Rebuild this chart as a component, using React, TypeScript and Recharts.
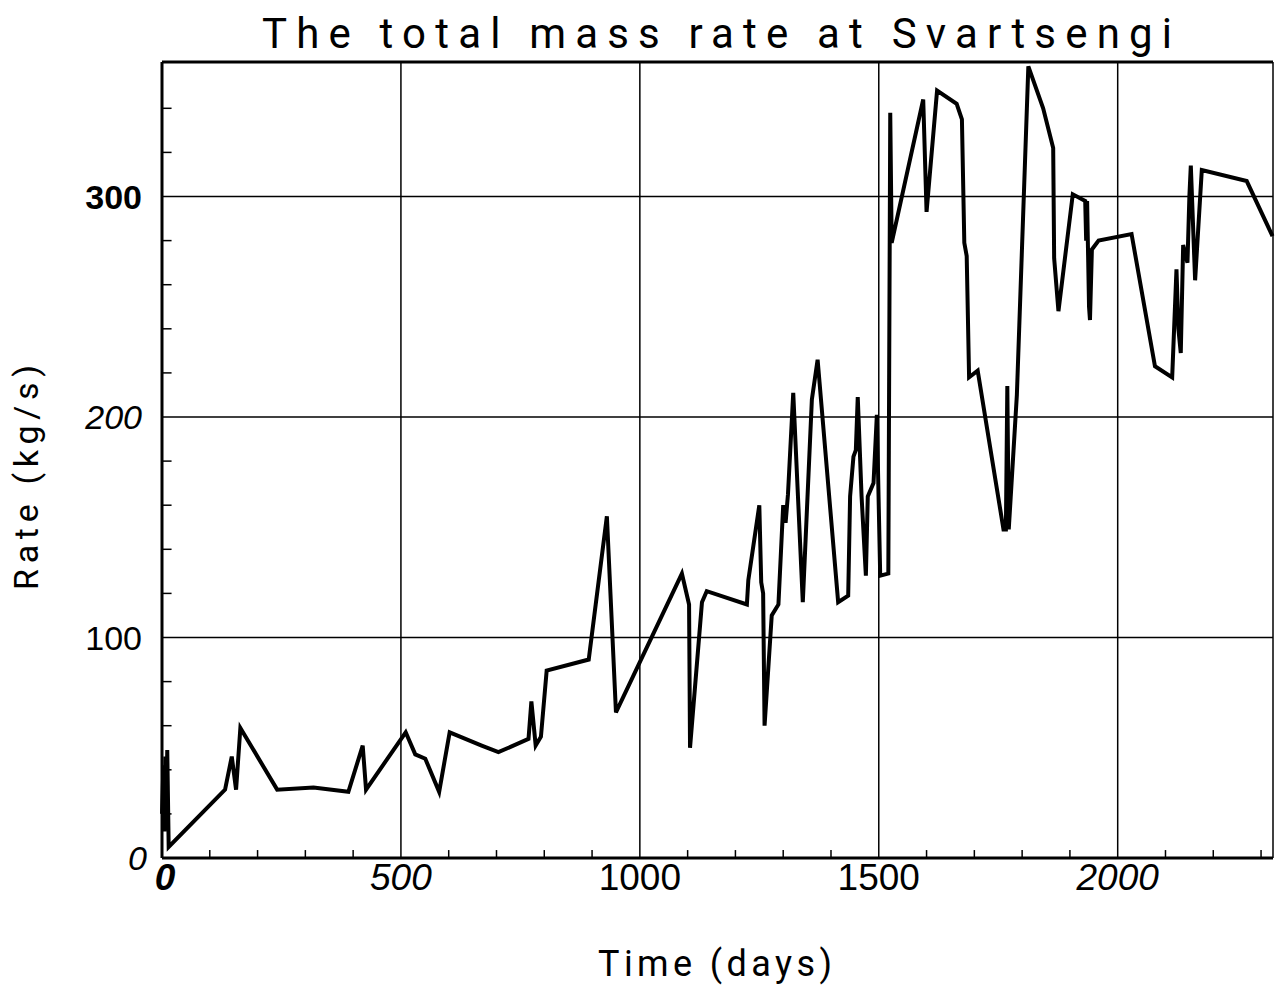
import React from 'react';
import { LineChart, Line, XAxis, YAxis, CartesianGrid, ReferenceLine } from 'recharts';

// time in days since start, total mass rate in kg/s
const days = [
  0, 3, 5, 7, 9, 11, 14, 132, 146, 155, 164, 241, 317, 390, 420, 427, 510, 530, 551, 580,
  602, 669, 704, 767, 773, 782, 793, 805, 893, 931, 950, 1088, 1103, 1105, 1130, 1140, 1224, 1227,
  1250, 1254, 1258, 1261, 1276, 1290, 1300, 1305, 1310, 1321, 1341, 1360, 1372, 1415, 1436, 1440,
  1447, 1452, 1456, 1464, 1473, 1477, 1489, 1496, 1503, 1520, 1524, 1527, 1593, 1600, 1622, 1663,
  1674, 1679, 1684, 1689, 1707, 1761, 1766, 1769, 1772, 1789, 1813, 1844, 1865, 1867, 1876, 1906,
  1932, 1934, 1936, 1940, 1942, 1946, 1960, 2029, 2078, 2114, 2123, 2127, 2132, 2137, 2146, 2150,
  2153, 2162, 2176, 2270, 2324,
];
const rates = [
  20, 42, 12, 46, 18, 49, 5, 31, 46, 31, 59, 31, 32, 30, 51, 31, 57, 47, 45, 30,
  57, 51, 48, 54, 71, 51, 55, 85, 90, 155, 66, 129, 115, 50, 116, 121, 115, 126,
  160, 125, 120, 60, 110, 115, 160, 152, 165, 211, 116, 208, 226, 116, 119, 164,
  182, 185, 209, 164, 128, 164, 170, 201, 128, 129, 338, 279, 344, 293, 348, 342,
  335, 279, 273, 218, 221, 149, 149, 214, 149, 210, 359, 340, 322, 272, 248, 301,
  298, 280, 298, 250, 244, 276, 280, 283, 223, 218, 267, 240, 229, 278, 270, 300,
  314, 262, 312, 307, 282,
];

const xTicks = [0, 500, 1000, 1500, 2000];
const yTicks = [0, 100, 200, 300];
const xMinor = [100, 200, 300, 400, 600, 700, 800, 900, 1100, 1200, 1300, 1400, 1600, 1700, 1800, 1900, 2100, 2200, 2300];
const yMinor = [20, 40, 60, 80, 120, 140, 160, 180, 220, 240, 260, 280, 320, 340];

const X_MAX = 2325;
const Y_MAX = 361;

const data = days.map((d, i) => ({ day: d, rate: rates[i] }));

// the scanned plot mixes bold / italic labels, keep that look
const xTickLook: Record<number, { w: string; s: string }> = {
  0: { w: 'bold', s: 'italic' },
  500: { w: 'normal', s: 'italic' },
  1000: { w: 'normal', s: 'normal' },
  1500: { w: 'normal', s: 'normal' },
  2000: { w: 'normal', s: 'italic' },
};
const yTickLook: Record<number, { w: string; s: string }> = {
  0: { w: 'normal', s: 'italic' },
  100: { w: 'normal', s: 'normal' },
  200: { w: 'normal', s: 'italic' },
  300: { w: 'bold', s: 'normal' },
};

const font = '"Liberation Sans", Arial, sans-serif';

const XTick = (props: any) => {
  const { x, y, payload } = props;
  const look = xTickLook[payload.value] || { w: 'normal', s: 'normal' };
  return (
    <text x={x + (payload.value === 0 ? 3 : 0)} y={y + 32} textAnchor="middle" fontFamily={font} fontSize={37}
      fontWeight={look.w} fontStyle={look.s} fill="#000">
      {payload.value}
    </text>
  );
};

const YTick = (props: any) => {
  const { x, y, payload } = props;
  const look = yTickLook[payload.value] || { w: 'normal', s: 'normal' };
  return (
    <text x={x - (payload.value === 0 ? 15 : 20)} y={y + 12} textAnchor="end" fontFamily={font} fontSize={34}
      fontWeight={look.w} fontStyle={look.s} fill="#000">
      {payload.value}
    </text>
  );
};

export default function App() {
  return (
    <div style={{ position: 'absolute', left: 0, top: 0, width: 1278, height: 986, background: '#fff' }}>
      <LineChart width={1278} height={986} data={data} margin={{ top: 62, right: 5, left: 0, bottom: 0 }}>
        <CartesianGrid stroke="#000" strokeWidth={1.5} />
        <XAxis dataKey="day" type="number" domain={[0, X_MAX]} ticks={xTicks} height={128}
          tick={<XTick />} tickLine={false} tickSize={0} tickMargin={0}
          axisLine={{ stroke: '#000', strokeWidth: 3 }} />
        <YAxis type="number" domain={[0, Y_MAX]} ticks={yTicks} width={162}
          tick={<YTick />} tickLine={false} tickSize={0} tickMargin={0}
          axisLine={{ stroke: '#000', strokeWidth: 3 }} />
        <ReferenceLine y={Y_MAX} stroke="#000" strokeWidth={3} />
        {xMinor.map((d) => (
          <ReferenceLine key={'xm' + d} segment={[{ x: d, y: 0 }, { x: d, y: 3.6 }]} stroke="#000" strokeWidth={1.5} />
        ))}
        {yMinor.map((v) => (
          <ReferenceLine key={'ym' + v} segment={[{ x: 0, y: v }, { x: 20, y: v }]} stroke="#000" strokeWidth={1.5} />
        ))}
        <Line type="linear" dataKey="rate" stroke="#000" strokeWidth={4} dot={false}
          isAnimationActive={false} strokeLinejoin="miter" />
      </LineChart>
      <svg width={1278} height={986} style={{ position: 'absolute', left: 0, top: 0, pointerEvents: 'none' }}>
        <text x={262} y={48} textLength={910} lengthAdjust="spacing" fontFamily="Roboto, sans-serif"
          fontWeight={400} fontSize={42} fill="#000">
          The total mass rate at Svartsengi
        </text>
        <text x={598} y={976} textLength={234} lengthAdjust="spacing" fontFamily="Roboto, sans-serif"
          fontWeight={400} fontSize={36} fill="#000">
          Time (days)
        </text>
        <text transform="translate(38, 590) rotate(-90)" x={0} y={0} textLength={225} lengthAdjust="spacing"
          fontFamily="Roboto, sans-serif" fontWeight={400} fontSize={34} fill="#000">
          Rate (kg/s)
        </text>
      </svg>
    </div>
  );
}
